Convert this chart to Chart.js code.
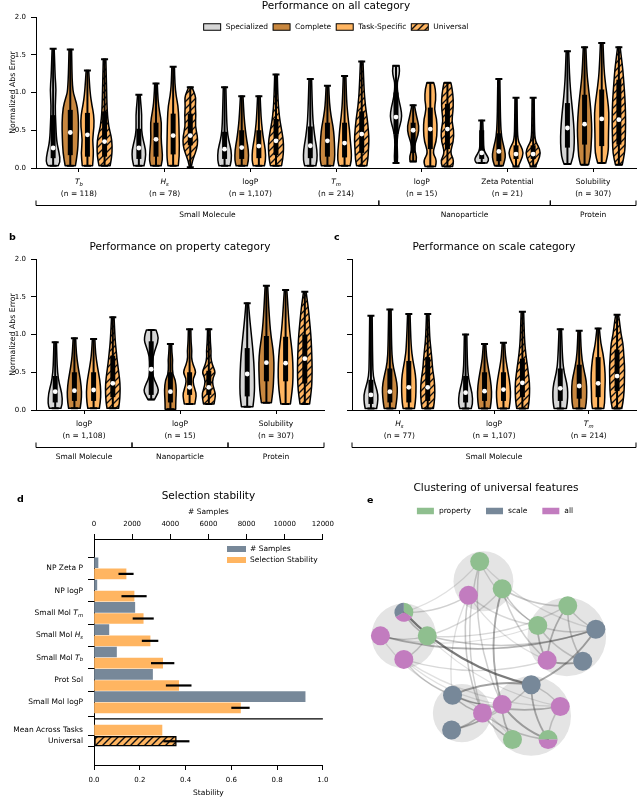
<!DOCTYPE html>
<html>
<head>
<meta charset="utf-8">
<script src="https://cdn.jsdelivr.net/npm/chart.js@4.4.1/dist/chart.umd.min.js"></script>
<style>
  body { margin: 0; background: #fff; width: 640px; height: 797px; position: relative; overflow: hidden; }
  canvas { position: absolute; }
</style>
</head>
<body>
<canvas id="pa" width="640" height="230" style="left:0;top:0"></canvas>
<canvas id="pb" width="330" height="240" style="left:0;top:230px"></canvas>
<canvas id="pc" width="310" height="240" style="left:330px;top:230px"></canvas>
<canvas id="pd" width="340" height="327" style="left:0;top:470px"></canvas>
<canvas id="pe" width="300" height="327" style="left:340px;top:470px"></canvas>
<script>
// ---- data ----
// violins: [min, q1, median, q3, max, density profile [[value, half width in 1/100 category]]]
const MODEL_NAMES = ['Specialized', 'Complete', 'Task-Specific', 'Universal'];

const A_CATS = ['$T_b$', '$H_s$', 'logP', '$T_m$', 'logP', 'Zeta Potential', 'Solubility'];
const A_N = ['118', '78', '1,107', '214', '15', '21', '307'];
const A_GROUPS = ['Small Molecule', 'Nanoparticle', 'Protein'];
const A_GROUP_SIZES = [4, 2, 1];

const A_SPECIALIZED = [
  [0.03, 0.13, 0.265, 0.70, 1.58, [[0.03,6],[0.08,8.5],[0.2,7],[0.35,4],[0.6,3],[0.82,2.3],[1.04,3.5],[1.2,2.3],[1.4,1.8],[1.58,1.2]]],
  [0.03, 0.12, 0.265, 0.52, 0.97, [[0.03,6],[0.12,7.8],[0.24,8],[0.37,5],[0.5,3],[0.7,3.5],[0.86,2.2],[0.97,1.5]]],
  [0.03, 0.12, 0.25, 0.48, 1.07, [[0.03,6.5],[0.1,8.1],[0.24,7.8],[0.37,4.7],[0.5,3],[0.7,2.3],[1.07,1.5]]],
  [0.03, 0.13, 0.295, 0.55, 1.18, [[0.03,6.5],[0.1,8.1],[0.24,7.8],[0.37,5.8],[0.5,4.3],[0.68,2.7],[1.18,1.5]]],
  [0.066, 0.45, 0.675, 1.0, 1.355, [[0.066,1.5],[0.15,2],[0.3,1.2],[0.45,1.8],[0.58,5],[0.68,7],[0.8,5.5],[0.95,2.2],[1.12,1.2],[1.2,3],[1.28,4.3],[1.355,3.5]]],
  [0.066, 0.12, 0.2, 0.5, 0.63, [[0.066,6],[0.1,8.5],[0.15,7],[0.22,3],[0.3,2],[0.45,1.8],[0.63,1.2]]],
  [0.053, 0.27, 0.53, 0.86, 1.545, [[0.053,4],[0.15,7],[0.33,8.1],[0.5,7.8],[0.68,6.6],[0.86,5],[1.04,3.5],[1.26,2.3],[1.545,1.5]]]
];
const A_COMPLETE = [
  [0.03, 0.17, 0.47, 0.77, 1.57, [[0.03,6],[0.2,8.5],[0.4,9.3],[0.6,9.7],[0.8,8.5],[0.92,5.5],[1.05,2.3],[1.57,1.5]]],
  [0.03, 0.15, 0.38, 0.6, 1.12, [[0.03,6],[0.1,7.8],[0.25,7],[0.4,5.8],[0.6,6.6],[0.73,4.3],[0.9,2.3],[1.12,1.5]]],
  [0.03, 0.12, 0.27, 0.5, 0.95, [[0.03,6.5],[0.1,8.1],[0.24,7.8],[0.37,5.8],[0.5,4.3],[0.68,2.7],[0.95,1.5]]],
  [0.03, 0.15, 0.36, 0.6, 1.09, [[0.03,7],[0.1,8.5],[0.25,8.5],[0.42,7.8],[0.55,6.6],[0.68,4.3],[0.86,2.3],[1.09,1.5]]],
  [0.087, 0.2, 0.5, 0.6, 0.83, [[0.087,3.5],[0.15,4.3],[0.24,1.5],[0.33,2.3],[0.44,5.8],[0.55,7],[0.68,4],[0.83,1.5]]],
  [0.03, 0.09, 0.22, 0.46, 1.18, [[0.03,5],[0.1,7],[0.18,7.8],[0.3,5.5],[0.42,3],[0.6,2],[0.9,1.5],[1.18,1.2]]],
  [0.044, 0.31, 0.58, 0.97, 1.6, [[0.044,4.7],[0.15,7],[0.33,7.8],[0.5,8.5],[0.68,7.8],[0.86,6.6],[1.04,4.7],[1.26,2.7],[1.6,1.5]]]
];
const A_TASK = [
  [0.03, 0.15, 0.44, 0.73, 1.29, [[0.03,6],[0.2,7.4],[0.37,5.8],[0.55,7.8],[0.7,7.5],[0.82,5.4],[1.0,3],[1.29,1.5]]],
  [0.03, 0.18, 0.43, 0.72, 1.34, [[0.03,6],[0.15,7.4],[0.45,7],[0.65,6.6],[0.82,5.8],[0.95,3.5],[1.12,2],[1.34,1.5]]],
  [0.03, 0.13, 0.29, 0.5, 0.95, [[0.03,6.5],[0.1,8],[0.24,7.6],[0.37,5.5],[0.5,4],[0.68,2.5],[0.95,1.5]]],
  [0.03, 0.14, 0.33, 0.6, 1.22, [[0.03,6.5],[0.1,8.1],[0.24,7.8],[0.37,6.6],[0.5,5.8],[0.68,3.9],[0.9,2.3],[1.22,1.5]]],
  [0.02, 0.25, 0.515, 0.8, 1.13, [[0.02,6],[0.1,8],[0.2,2.5],[0.35,7],[0.5,8],[0.65,7.5],[0.78,4.5],[0.9,6.5],[1.05,6],[1.13,4]]],
  [0.02, 0.12, 0.185, 0.3, 0.93, [[0.02,2.7],[0.1,5.8],[0.2,8.9],[0.29,5.8],[0.37,2],[0.6,1.5],[0.93,1.2]]],
  [0.066, 0.29, 0.65, 1.04, 1.655, [[0.066,4.7],[0.2,7.8],[0.37,7.8],[0.55,8.1],[0.73,8.5],[0.9,7],[1.08,4.7],[1.3,2.7],[1.655,1.5]]]
];
const A_UNIVERSAL = [
  [0.03, 0.15, 0.35, 0.75, 1.44, [[0.03,6.5],[0.15,8.5],[0.3,8.9],[0.42,7.8],[0.55,4.7],[0.75,3],[1.1,2.2],[1.44,1.5]]],
  [0.01, 0.3, 0.43, 0.72, 1.07, [[0.01,1],[0.1,2.5],[0.2,6],[0.3,8.5],[0.42,8.5],[0.55,5.8],[0.7,6.6],[0.82,5.8],[0.93,6.6],[1.0,4.5],[1.07,2]]],
  [0.03, 0.17, 0.36, 0.65, 1.24, [[0.03,6.5],[0.12,8],[0.25,8.9],[0.38,8.5],[0.55,5.8],[0.68,3.9],[0.9,2.3],[1.24,1.5]]],
  [0.03, 0.2, 0.45, 0.75, 1.41, [[0.03,6],[0.12,7.4],[0.25,7.8],[0.37,8.5],[0.5,7.8],[0.64,6.6],[0.82,4.3],[1.04,2.7],[1.41,1.5]]],
  [0.02, 0.25, 0.515, 0.85, 1.13, [[0.02,6],[0.1,8],[0.2,3],[0.35,7],[0.5,7.5],[0.62,5],[0.75,6.5],[0.9,7],[1.05,5.5],[1.13,4]]],
  [0.02, 0.12, 0.185, 0.3, 0.93, [[0.02,3],[0.1,6],[0.2,8.9],[0.29,6],[0.37,2],[0.6,1.5],[0.93,1.2]]],
  [0.044, 0.31, 0.64, 1.17, 1.6, [[0.044,4],[0.2,7],[0.37,7.4],[0.55,7.8],[0.73,7.8],[0.95,7],[1.13,5.8],[1.3,4.7],[1.46,3],[1.6,1.5]]]
];

const B_CATS = ['logP', 'logP', 'Solubility'];
const B_N = ['1,108', '15', '307'];
const B_GROUPS = ['Small Molecule', 'Nanoparticle', 'Protein'];
const B_GROUP_SIZES = [1, 1, 1];
const B_SPECIALIZED = [
  [0.022, 0.1, 0.243, 0.45, 0.897, [[0.022,6],[0.08,7.6],[0.22,7],[0.35,4.2],[0.49,2.4],[0.7,1.7],[0.897,1.3]]],
  [0.14, 0.2, 0.54, 0.91, 1.06, [[0.14,3.5],[0.2,6],[0.26,8],[0.35,5.2],[0.44,1.8],[0.57,1.4],[0.71,1.8],[0.84,5.2],[0.95,8],[1.06,5]]],
  [0.044, 0.18, 0.477, 0.82, 1.413, [[0.044,6],[0.2,7.6],[0.4,7.6],[0.62,7],[0.84,5.6],[1.06,3.8],[1.24,2.4],[1.413,1.3]]]
];
const B_COMPLETE = [
  [0.022, 0.12, 0.256, 0.5, 0.95, [[0.022,6],[0.1,7],[0.24,7.6],[0.4,6.3],[0.57,3.8],[0.75,2],[0.95,1.3]]],
  [0.009, 0.1, 0.243, 0.5, 0.875, [[0.009,5.5],[0.13,5.6],[0.26,6.3],[0.4,5.2],[0.47,2.4],[0.6,2],[0.66,2.4],[0.77,1.5],[0.875,1.3]]],
  [0.097, 0.38, 0.627, 0.98, 1.647, [[0.097,5.2],[0.26,7],[0.44,7.6],[0.62,8],[0.8,7],[0.97,4.9],[1.15,3.5],[1.37,2.4],[1.647,1.3]]]
];
const B_TASK = [
  [0.022, 0.12, 0.265, 0.5, 0.94, [[0.022,6],[0.1,7],[0.24,7.6],[0.4,6.5],[0.57,4],[0.75,2],[0.94,1.3]]],
  [0.08, 0.2, 0.3, 0.5, 1.068, [[0.08,5.5],[0.15,6.5],[0.22,7],[0.33,4],[0.42,3.5],[0.5,7],[0.6,3.5],[0.7,1.8],[0.77,2.5],[0.9,1.5],[1.068,1.3]]],
  [0.08, 0.38, 0.62, 0.97, 1.59, [[0.08,5],[0.26,7],[0.44,7.8],[0.62,7.6],[0.8,6.6],[0.97,4.9],[1.15,3.5],[1.37,2.4],[1.59,1.3]]]
];
const B_UNIVERSAL = [
  [0.022, 0.17, 0.353, 0.72, 1.23, [[0.022,6],[0.1,7],[0.22,7.6],[0.35,7.6],[0.49,6.3],[0.62,4.9],[0.75,3.8],[0.93,2.4],[1.23,1.3]]],
  [0.08, 0.2, 0.3, 0.52, 1.068, [[0.08,5.5],[0.15,6.5],[0.22,7],[0.33,4],[0.42,4],[0.5,7.2],[0.6,3.5],[0.7,2],[0.77,2.5],[0.9,1.6],[1.068,1.3]]],
  [0.08, 0.35, 0.68, 1.0, 1.567, [[0.08,5],[0.26,7],[0.44,7.6],[0.62,7.6],[0.84,7],[1.0,6.3],[1.19,4.9],[1.37,3.5],[1.567,1.3]]]
];

const C_CATS = ['$H_s$', 'logP', '$T_m$'];
const C_N = ['77', '1,107', '214'];
const C_GROUPS = ['Small Molecule'];
const C_GROUP_SIZES = [3];
const C_SPECIALIZED = [
  [0.02, 0.08, 0.2, 0.4, 1.25, [[0.02,6],[0.08,7],[0.2,7.6],[0.31,5.2],[0.44,2.4],[0.62,1.8],[1.25,1.3]]],
  [0.02, 0.1, 0.23, 0.45, 1.0, [[0.02,6],[0.08,7.6],[0.22,7],[0.35,4.2],[0.49,2.4],[0.7,1.7],[1.0,1.3]]],
  [0.02, 0.12, 0.287, 0.55, 1.07, [[0.02,6.5],[0.1,7.6],[0.24,8],[0.35,7],[0.49,4.2],[0.66,2.4],[1.07,1.3]]]
];
const C_COMPLETE = [
  [0.02, 0.1, 0.243, 0.55, 1.33, [[0.02,6],[0.1,7],[0.24,8],[0.35,7.6],[0.49,5.2],[0.62,2.8],[0.84,1.8],[1.33,1.3]]],
  [0.02, 0.12, 0.25, 0.5, 0.875, [[0.02,6],[0.1,7],[0.24,7.6],[0.4,6.3],[0.57,3.8],[0.72,2],[0.875,1.3]]],
  [0.02, 0.15, 0.318, 0.6, 1.05, [[0.02,6.5],[0.1,7.6],[0.24,8],[0.38,7.6],[0.5,5.5],[0.66,3],[0.85,1.8],[1.05,1.3]]]
];
const C_TASK = [
  [0.02, 0.1, 0.3, 0.65, 1.27, [[0.02,6],[0.1,7],[0.24,7.6],[0.4,7.6],[0.53,6.3],[0.66,4.2],[0.84,2.4],[1.27,1.3]]],
  [0.02, 0.12, 0.27, 0.5, 0.89, [[0.02,6],[0.1,7],[0.24,7.6],[0.4,6.3],[0.57,3.8],[0.72,2],[0.89,1.3]]],
  [0.02, 0.17, 0.353, 0.7, 1.08, [[0.02,6],[0.1,7],[0.24,7],[0.4,7.6],[0.57,7],[0.75,5.2],[0.88,2.8],[1.08,1.3]]]
];
const C_UNIVERSAL = [
  [0.02, 0.12, 0.3, 0.7, 1.27, [[0.02,6],[0.1,7],[0.24,7.6],[0.4,7],[0.53,5.2],[0.66,4.5],[0.79,3.5],[0.97,2],[1.27,1.3]]],
  [0.02, 0.17, 0.36, 0.68, 1.3, [[0.02,6],[0.1,7],[0.22,7.6],[0.35,7.6],[0.49,6.3],[0.62,4.9],[0.75,3.5],[0.93,2.2],[1.3,1.3]]],
  [0.02, 0.25, 0.45, 0.8, 1.26, [[0.02,5],[0.1,6.3],[0.26,7.6],[0.45,7.8],[0.57,8],[0.75,7],[0.88,6.3],[1.0,4.2],[1.19,2.4],[1.26,1.5]]]
];

const Y_TICKS = [0, 0.5, 1, 1.5, 2];

// panel d
const D_TASKS = ['NP Zeta P', 'NP logP', 'Small Mol $T_m$', 'Small Mol $H_s$', 'Small Mol $T_b$', 'Prot Sol', 'Small Mol logP'];
const D_SAMPLES = [210, 150, 2140, 780, 1180, 3070, 11070];
const D_STABILITY = [0.14, 0.175, 0.215, 0.245, 0.30, 0.37, 0.64];
const D_STABILITY_ERR = [0.033, 0.055, 0.046, 0.036, 0.051, 0.056, 0.04];
const D_MEAN = 0.297;
const D_UNIVERSAL = 0.36;
const D_UNIVERSAL_ERR = 0.057;
const SAMPLE_TICKS = [0, 2000, 4000, 6000, 8000, 10000, 12000];

// panel e: layout coordinates
const CLUSTERS = [[-0.07, 0.555, 0.32], [-0.92, -0.025, 0.345], [0.82, -0.035, 0.42], [-0.30, -0.845, 0.31], [0.44, -0.875, 0.425]];
const NODES = [
  [-0.11, 0.765, 'property'], [-0.23, 0.405, 'all'], [0.13, 0.475, 'property'],
  [-0.92, 0.225, ['property', 'all', 'scale']], [-1.17, -0.025, 'all'], [-0.67, -0.025, 'property'], [-0.92, -0.275, 'all'],
  [0.83, 0.295, 'property'], [0.51, 0.085, 'property'], [1.13, 0.045, 'scale'], [0.61, -0.285, 'all'], [0.99, -0.295, 'scale'],
  [-0.40, -0.655, 'scale'], [-0.08, -0.845, 'all'], [-0.41, -1.025, 'scale'],
  [0.44, -0.545, 'scale'], [0.13, -0.755, 'all'], [0.75, -0.775, 'all'], [0.24, -1.125, 'property'], [0.62, -1.125, ['property', 'all']]
];
const EDGES = [
  [3,15,0.85],[4,9,0.5],[2,16,0.55],[15,12,0.6],[15,9,0.55],[12,17,0.45],[8,10,0.45],[7,10,0.45],[7,11,0.35],
  [10,11,0.55],[13,18,0.45],[16,18,0.45],[16,19,0.55],[13,19,0.35],[15,19,0.5],[1,13,0.35],[0,13,0.3],[0,16,0.3],
  [2,8,0.35],[2,7,0.35],[1,8,0.25],[3,5,0.4],[4,5,0.3],[6,5,0.3],[6,12,0.3],[5,9,0.35],[5,7,0.25],[3,1,0.3],
  [6,10,0.25],[12,13,0.4],[14,13,0.4],[14,16,0.3],[12,16,0.3],[14,15,0.3],[1,10,0.2],[0,8,0.25],[0,9,0.2],
  [2,10,0.3],[5,17,0.2],[6,16,0.2],[4,12,0.2],[8,9,0.3],[7,9,0.3],[8,11,0.3],[17,19,0.3],[17,15,0.3],
  [18,12,0.2],[3,0,0.2],[1,12,0.2],[5,2,0.25],[4,8,0.2],[6,17,0.2]
];
const E_TYPES = ['property', 'scale', 'all'];

// ---- styles ----
const FONT = '"DejaVu Sans", sans-serif';
const SPEC_COLOR = '#d6d6d6';
const COMPLETE_COLOR = '#c8873f';
const TASK_COLOR = '#ffb561';
const SLATE = '#778899';
const E_COLORS = { property: '#8fbf8f', scale: '#778899', all: '#c27cbf' };
const OFFSETS = [-0.3, -0.1, 0.1, 0.3];

Chart.defaults.font.family = FONT;
Chart.defaults.color = '#000';

function hatch(ctx, base) {
  const c = document.createElement('canvas');
  c.width = c.height = 7;
  const g = c.getContext('2d');
  g.fillStyle = base; g.fillRect(0, 0, 7, 7);
  g.strokeStyle = '#111'; g.lineWidth = 1.4;
  g.beginPath();
  g.moveTo(-1, 8); g.lineTo(8, -1);
  g.moveTo(-1, 1); g.lineTo(1, -1);
  g.moveTo(6, 8); g.lineTo(8, 6);
  g.stroke();
  return ctx.createPattern(c, 'repeat');
}

function richParts(str) {
  const parts = [], re = /\$([^$]*)\$/g;
  let last = 0, m;
  while ((m = re.exec(str))) {
    if (m.index > last) parts.push({ t: str.slice(last, m.index) });
    const [base, sub] = m[1].split('_');
    parts.push({ t: base, it: true });
    if (sub) parts.push({ t: sub, it: true, sub: true });
    last = re.lastIndex;
  }
  if (last < str.length) parts.push({ t: str.slice(last) });
  return parts;
}

function drawRich(ctx, str, x, y, size, align, weight) {
  const parts = richParts(str);
  const fontOf = p => (p.it ? 'italic ' : '') + (weight || '') + ' ' + (p.sub ? size * 0.7 : size) + 'px ' + FONT;
  let w = 0;
  parts.forEach(p => { ctx.font = fontOf(p); p.w = ctx.measureText(p.t).width; w += p.w; });
  let cx = align === 'center' ? x - w / 2 : align === 'right' ? x - w : x;
  ctx.textAlign = 'left';
  ctx.textBaseline = 'middle';
  ctx.fillStyle = '#000';
  parts.forEach(p => {
    ctx.font = fontOf(p);
    ctx.fillText(p.t, cx, y + (p.sub ? size * 0.3 : 0));
    cx += p.w;
  });
}

function drawLegend(ctx, items, cx, y, size, itemGap) {
  ctx.font = size + 'px ' + FONT;
  const pw = 17, ph = 6.5, gap = 5;
  const widths = items.map(it => pw + gap + ctx.measureText(it.label).width);
  const total = widths.reduce((a, b) => a + b, 0) + itemGap * (items.length - 1);
  let x = cx - total / 2;
  items.forEach((it, k) => {
    ctx.fillStyle = it.fill;
    ctx.fillRect(x, y - ph / 2, pw, ph);
    if (it.stroke) { ctx.strokeStyle = it.stroke; ctx.lineWidth = 1; ctx.strokeRect(x, y - ph / 2, pw, ph); }
    ctx.fillStyle = '#000';
    ctx.font = size + 'px ' + FONT;
    ctx.textAlign = 'left'; ctx.textBaseline = 'middle';
    ctx.fillText(it.label, x + pw + gap, y + 0.5);
    x += widths[k] + itemGap;
  });
}

function smoothPath(ctx, pts, start) {
  if (start) ctx.moveTo(pts[0][0], pts[0][1]); else ctx.lineTo(pts[0][0], pts[0][1]);
  for (let i = 1; i < pts.length - 1; i++) {
    const mx = (pts[i][0] + pts[i + 1][0]) / 2, my = (pts[i][1] + pts[i + 1][1]) / 2;
    ctx.quadraticCurveTo(pts[i][0], pts[i][1], mx, my);
  }
  ctx.lineTo(pts[pts.length - 1][0], pts[pts.length - 1][1]);
}

function drawViolin(ctx, xs, ys, xc, v, fill) {
  const [mn, q1, , q3, mx, dens] = v;
  const unit = xs.getPixelForValue(0.01) - xs.getPixelForValue(0);
  const right = dens.map(([y, w]) => [xc + w * unit, ys.getPixelForValue(y)]);
  const left = dens.slice().reverse().map(([y, w]) => [xc - w * unit, ys.getPixelForValue(y)]);
  ctx.save();
  ctx.beginPath();
  smoothPath(ctx, right, true);
  smoothPath(ctx, left, false);
  ctx.closePath();
  ctx.fillStyle = fill; ctx.fill();
  ctx.lineWidth = 1.5; ctx.strokeStyle = '#000'; ctx.lineJoin = 'round'; ctx.stroke();
  const yMin = ys.getPixelForValue(mn), yMax = ys.getPixelForValue(mx);
  ctx.beginPath(); ctx.lineWidth = 2;
  ctx.moveTo(xc, yMin); ctx.lineTo(xc, yMax); ctx.stroke();
  ctx.beginPath(); ctx.lineWidth = 2;
  ctx.moveTo(xc - 3.5, yMax); ctx.lineTo(xc + 3.5, yMax);
  ctx.moveTo(xc - 3.5, yMin); ctx.lineTo(xc + 3.5, yMin); ctx.stroke();
  ctx.beginPath(); ctx.lineWidth = 5; ctx.lineCap = 'butt';
  ctx.moveTo(xc, ys.getPixelForValue(q1)); ctx.lineTo(xc, ys.getPixelForValue(q3)); ctx.stroke();
  ctx.restore();
}

function violinChart(id, cats, ns, groups, groupSizes, sets, cfg) {
  const canvas = document.getElementById(id);
  const ctx = canvas.getContext('2d');
  const fills = [SPEC_COLOR, COMPLETE_COLOR, TASK_COLOR, hatch(ctx, TASK_COLOR)];
  const datasets = sets.map((arr, j) => ({
    label: MODEL_NAMES[j],
    data: arr.map((v, i) => ({ x: i + OFFSETS[j], y: v[2] })),
    pointRadius: 2.4, pointBackgroundColor: '#fff', pointBorderWidth: 0
  }));
  const plugin = {
    id: 'violins',
    beforeDatasetsDraw(chart) {
      const xs = chart.scales.x, ys = chart.scales.y;
      sets.forEach((arr, j) => arr.forEach((v, i) => drawViolin(chart.ctx, xs, ys, xs.getPixelForValue(i + OFFSETS[j]), v, fills[j])));
    },
    afterDraw(chart) {
      const c = chart.ctx, xs = chart.scales.x, a = chart.chartArea, b = a.bottom;
      c.save();
      cats.forEach((name, i) => {
        const x = xs.getPixelForValue(i);
        drawRich(c, name, x, b + 14.5, 7.5, 'center');
        drawRich(c, '(n = ' + ns[i] + ')', x, b + 26, 7.5, 'center');
      });
      let start = -0.5;
      c.strokeStyle = '#000'; c.lineWidth = 1;
      groups.forEach((g, k) => {
        const x1 = xs.getPixelForValue(start), x2 = xs.getPixelForValue(start + groupSizes[k]);
        const y = b + 37.5;
        c.beginPath();
        c.moveTo(x1, y - 5); c.lineTo(x1, y); c.lineTo(x2, y); c.lineTo(x2, y - 5);
        c.stroke();
        drawRich(c, g, (x1 + x2) / 2, y + 10, 7.5, 'center');
        start += groupSizes[k];
      });
      const cx = (a.left + a.right) / 2;
      drawRich(c, cfg.title, cx, cfg.titleY, 10.5, 'center');
      if (cfg.letter) drawRich(c, cfg.letter, cfg.letterX, cfg.letterY, 9.5, 'left', 'bold');
      if (cfg.yTitle) {
        c.save();
        c.translate(13, (a.top + a.bottom) / 2);
        c.rotate(-Math.PI / 2);
        drawRich(c, 'Normalized Abs Error', 0, 0, 7.8, 'center');
        c.restore();
      }
      if (cfg.legend) {
        drawLegend(c, MODEL_NAMES.map((n, j) => ({ label: n, fill: fills[j], stroke: '#000' })), cx, 27, 7.5, 5);
      }
      c.restore();
    }
  };
  return new Chart(ctx, {
    type: 'scatter',
    data: { datasets },
    options: {
      responsive: false, animation: false, events: [],
      layout: { padding: { left: 0, right: cfg.padRight, top: cfg.top, bottom: 0 } },
      plugins: { legend: { display: false }, tooltip: { enabled: false } },
      scales: {
        x: {
          type: 'linear', min: -0.5, max: cats.length - 0.5,
          afterBuildTicks: s => { s.ticks = cats.map((_, i) => ({ value: i })); },
          afterFit: s => { s.height = cfg.xHeight; },
          ticks: { display: false },
          grid: { drawOnChartArea: false, tickLength: 4, color: '#000' },
          border: { color: '#000', width: 1 }
        },
        y: {
          type: 'linear', min: 0, max: 2,
          afterBuildTicks: s => { s.ticks = Y_TICKS.map(v => ({ value: v })); },
          afterFit: s => { s.width = cfg.yWidth; },
          ticks: { display: cfg.yLabels, callback: v => v.toFixed(1), font: { size: 7 }, color: '#000', padding: 5 },
          grid: { drawOnChartArea: false, tickLength: 5, color: '#000' },
          border: { color: '#000', width: 1 }
        }
      }
    },
    plugins: [plugin]
  });
}

violinChart('pa', A_CATS, A_N, A_GROUPS, A_GROUP_SIZES, [A_SPECIALIZED, A_COMPLETE, A_TASK, A_UNIVERSAL],
  { padRight: 1, top: 17, xHeight: 62, yWidth: 36, yLabels: true, yTitle: true, title: 'Performance on all category', titleY: 6.5, legend: true });
violinChart('pb', B_CATS, B_N, B_GROUPS, B_GROUP_SIZES, [B_SPECIALIZED, B_COMPLETE, B_TASK, B_UNIVERSAL],
  { padRight: 6, top: 29, xHeight: 60, yWidth: 36, yLabels: true, yTitle: true, title: 'Performance on property category', titleY: 17, letter: 'b', letterX: 9, letterY: 8 });
violinChart('pc', C_CATS, C_N, C_GROUPS, C_GROUP_SIZES, [C_SPECIALIZED, C_COMPLETE, C_TASK, C_UNIVERSAL],
  { padRight: 1, top: 29, xHeight: 60, yWidth: 22, yLabels: false, yTitle: false, title: 'Performance on scale category', titleY: 17, letter: 'c', letterX: 4, letterY: 8 });

// ---- panel d ----
(function () {
  const ctx = document.getElementById('pd').getContext('2d');
  const uniHatch = hatch(ctx, TASK_COLOR);
  const labels = D_TASKS.concat(['Mean Across Tasks', 'Universal']);
  const tickPos = D_TASKS.map((_, i) => 2 * i + 0.5).concat([15, 16]);
  const plugin = {
    id: 'dextra',
    afterDatasetsDraw(chart) {
      const c = chart.ctx, xs = chart.scales.x, ys = chart.scales.y, a = chart.chartArea;
      c.save();
      c.strokeStyle = '#000'; c.lineWidth = 2.2;
      D_STABILITY.forEach((v, i) => {
        const y = ys.getPixelForValue(2 * i + 1);
        c.beginPath();
        c.moveTo(xs.getPixelForValue(v - D_STABILITY_ERR[i]), y);
        c.lineTo(xs.getPixelForValue(v + D_STABILITY_ERR[i]), y);
        c.stroke();
      });
      const yu = ys.getPixelForValue(16);
      c.beginPath();
      c.moveTo(xs.getPixelForValue(D_UNIVERSAL - D_UNIVERSAL_ERR), yu);
      c.lineTo(xs.getPixelForValue(D_UNIVERSAL + D_UNIVERSAL_ERR), yu);
      c.stroke();
      const ysep = ys.getPixelForValue(14);
      c.lineWidth = 1.3;
      c.beginPath(); c.moveTo(a.left, ysep); c.lineTo(a.right, ysep); c.stroke();
      c.restore();
    },
    afterDraw(chart) {
      const c = chart.ctx, ys = chart.scales.y, a = chart.chartArea;
      const cx = (a.left + a.right) / 2;
      c.save();
      labels.forEach((l, i) => drawRich(c, l, a.left - 11, ys.getPixelForValue(tickPos[i]), 7.5, 'right'));
      drawRich(c, 'Selection stability', cx, 26, 10.5, 'center');
      drawRich(c, '# Samples', cx, 42, 7.5, 'center');
      drawRich(c, 'Stability', cx, 323, 7.5, 'center');
      drawRich(c, 'd', 17, 30, 9.5, 'left', 'bold');
      c.font = '7.5px ' + FONT;
      [['# Samples', SLATE], ['Selection Stability', TASK_COLOR]].forEach(([t, col], k) => {
        const y = 79 + k * 11;
        c.fillStyle = col; c.fillRect(227, y - 3, 19, 6);
        c.fillStyle = '#000'; c.textAlign = 'left'; c.textBaseline = 'middle';
        c.fillText(t, 250, y + 0.5);
      });
      c.restore();
    }
  };
  new Chart(ctx, {
    type: 'bar',
    data: {
      datasets: [
        { label: '# Samples', xAxisID: 'x2', data: D_SAMPLES.map((v, i) => ({ x: v, y: 2 * i })), backgroundColor: SLATE },
        { label: 'Selection Stability', xAxisID: 'x', data: D_STABILITY.map((v, i) => ({ x: v, y: 2 * i + 1 })).concat([{ x: D_MEAN, y: 15 }]), backgroundColor: TASK_COLOR },
        { label: 'Universal', xAxisID: 'x', data: [{ x: D_UNIVERSAL, y: 16 }], backgroundColor: uniHatch, borderColor: '#000', borderWidth: 1.5, borderSkipped: false }
      ]
    },
    options: {
      indexAxis: 'y', responsive: false, animation: false, events: [],
      datasets: { bar: { barThickness: 10, grouped: false } },
      layout: { padding: { left: 0, right: 17, top: 0, bottom: 0 } },
      plugins: { legend: { display: false }, tooltip: { enabled: false } },
      scales: {
        y: {
          type: 'linear', min: -1, max: 17, reverse: true,
          afterBuildTicks: s => { s.ticks = tickPos.map(v => ({ value: v })); },
          afterFit: s => { s.width = 94; },
          ticks: { display: false },
          grid: { drawOnChartArea: false, tickLength: 6, color: '#000' },
          border: { color: '#000', width: 1 }
        },
        x: {
          type: 'linear', position: 'bottom', min: 0, max: 1,
          ticks: { stepSize: 0.2, callback: v => v.toFixed(1), font: { size: 7 }, padding: 6, color: '#000' },
          afterFit: s => { s.height = 32; },
          grid: { drawOnChartArea: false, tickLength: 5, color: '#000' },
          border: { color: '#000', width: 1 }
        },
        x2: {
          type: 'linear', position: 'top', min: 0, max: 12000,
          afterBuildTicks: s => { s.ticks = SAMPLE_TICKS.map(v => ({ value: v })); },
          ticks: { callback: v => String(v), font: { size: 7 }, padding: 6, color: '#000' },
          afterFit: s => { s.height = 69; },
          grid: { drawOnChartArea: false, tickLength: 5, color: '#000' },
          border: { color: '#000', width: 1 }
        }
      }
    },
    plugins: [plugin]
  });
})();

// ---- panel e ----
(function () {
  const ctx = document.getElementById('pe').getContext('2d');
  const pxPerUnit = ch => ch.scales.x.getPixelForValue(1) - ch.scales.x.getPixelForValue(0);
  const nodeSets = E_TYPES.map(t => ({
    label: t,
    data: NODES.filter(n => n[2] === t).map(n => ({ x: n[0], y: n[1] })),
    pointRadius: 9.5, pointBackgroundColor: E_COLORS[t], pointBorderWidth: 0, order: 1, clip: false
  }));
  const clusterSet = {
    label: 'clusters',
    data: CLUSTERS.map(c => ({ x: c[0], y: c[1], r: c[2] })),
    pointRadius: c => c.raw ? c.raw.r * pxPerUnit(c.chart) : 0,
    pointBackgroundColor: '#e4e4e4', pointBorderWidth: 0, order: 10, clip: false
  };
  const datasets = nodeSets.concat([clusterSet]);
  const clusterIndex = datasets.length - 1;
  const plugin = {
    id: 'graph',
    afterDatasetDraw(chart, args) {
      if (args.index !== clusterIndex) return;
      const c = chart.ctx, xs = chart.scales.x, ys = chart.scales.y;
      c.save();
      c.lineCap = 'round';
      EDGES.forEach(([a, b, w]) => {
        const x1 = xs.getPixelForValue(NODES[a][0]), y1 = ys.getPixelForValue(NODES[a][1]);
        const x2 = xs.getPixelForValue(NODES[b][0]), y2 = ys.getPixelForValue(NODES[b][1]);
        const mx = (x1 + x2) / 2 - (y2 - y1) * 0.15, my = (y1 + y2) / 2 + (x2 - x1) * 0.15;
        c.strokeStyle = 'rgba(60,60,60,' + (w * 0.8) + ')';
        c.lineWidth = 1 + w * 1.6;
        c.beginPath(); c.moveTo(x1, y1); c.quadraticCurveTo(mx, my, x2, y2); c.stroke();
      });
      c.restore();
    },
    afterDatasetsDraw(chart) {
      const c = chart.ctx, xs = chart.scales.x, ys = chart.scales.y;
      NODES.filter(n => Array.isArray(n[2])).forEach(n => {
        const x = xs.getPixelForValue(n[0]), y = ys.getPixelForValue(n[1]);
        const parts = n[2], step = 2 * Math.PI / parts.length;
        let a0 = parts.length === 2 ? Math.PI : -Math.PI / 2;
        parts.forEach(p => {
          c.beginPath(); c.moveTo(x, y); c.arc(x, y, 9.5, a0, a0 + step); c.closePath();
          c.fillStyle = E_COLORS[p]; c.fill();
          a0 += step;
        });
      });
    },
    afterDraw(chart) {
      const c = chart.ctx;
      c.save();
      drawRich(c, 'Clustering of universal features', 156, 18, 10.5, 'center');
      drawRich(c, 'e', 27, 31, 9.5, 'left', 'bold');
      drawLegend(c, E_TYPES.map(t => ({ label: t, fill: E_COLORS[t] })), 155, 41, 7.5, 15);
      c.restore();
    }
  };
  new Chart(ctx, {
    type: 'scatter',
    data: { datasets },
    options: {
      responsive: false, animation: false, events: [],
      layout: { padding: 0 },
      plugins: { legend: { display: false }, tooltip: { enabled: false } },
      scales: {
        x: { type: 'linear', min: -1.5, max: 1.5, display: false },
        y: { type: 'linear', min: -1.635, max: 1.635, display: false }
      }
    },
    plugins: [plugin]
  });
})();
</script>
</body>
</html>
